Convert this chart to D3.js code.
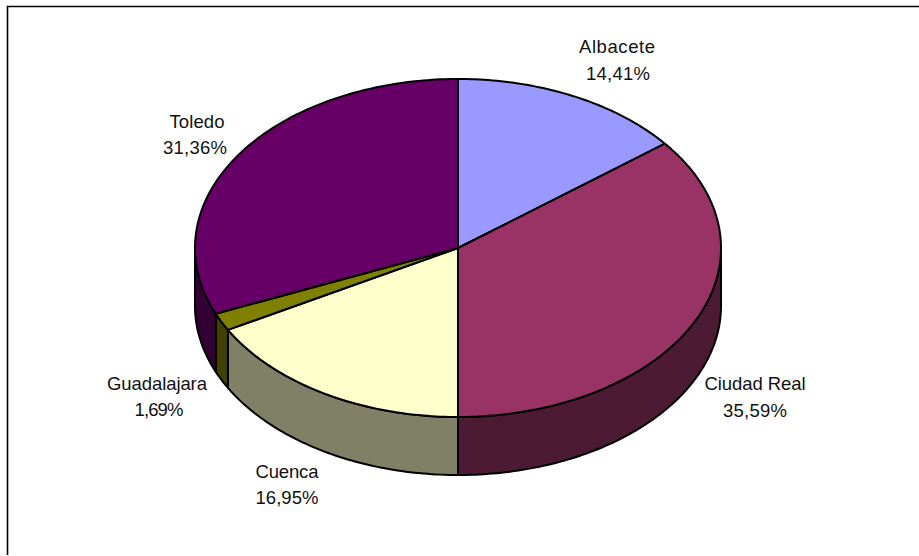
<!DOCTYPE html>
<html>
<head>
<meta charset="utf-8">
<script src="https://cdn.jsdelivr.net/npm/d3@7"></script>
<style>
    html, body { margin: 0; padding: 0; background: #fff; }
    svg { display: block; }
    text { font-family: "Liberation Sans", Arial, sans-serif; font-size: 18.5px; fill: #111; }
</style>
</head>
<body>
<script>
var categories = ["Albacete", "Ciudad Real", "Cuenca", "Guadalajara", "Toledo"];
var values = [14.41, 35.59, 16.95, 1.69, 31.36];
var percentLabels = ["14,41%", "35,59%", "16,95%", "1,69%", "31,36%"];
var topColors = ["#9999ff", "#993366", "#ffffcc", "#808000", "#660066"];
var sideColors = ["#4d4d80", "#4d1a33", "#808066", "#404000", "#330033"];

var width = 919,
    height = 556,
    cx = 458,
    cy = 248,
    rx = 263,
    ry = 169,
    depth = 58;

var svg = d3.select("body").append("svg")
    .attr("width", width)
    .attr("height", height);

/** Only the top and left edges of the chart frame are in the picture **/
svg.append("path")
    .attr("d", d3.line()([[7.5, 555], [7.5, 6.5], [width, 6.5]]))
    .attr("fill", "none")
    .attr("stroke", "#000")
    .attr("stroke-width", 1.6);

var slices = d3.pie().sort(null)(values);

var px = function (a) { return cx + rx * Math.sin(a); };
var py = function (a) { return cy - ry * Math.cos(a); };

/**
 * Sample the rim of the ellipse between two angles
 */
var rim = function (a0, a1, dy) {
    var n = Math.max(2, Math.ceil(Math.abs(a1 - a0) * 60));
    return d3.range(n + 1).map(function (i) {
        var a = a0 + (a1 - a0) * i / n;
        return [px(a), py(a) + dy];
    });
};

var line = d3.line();

/** Side walls, only the part of a slice that faces the viewer **/
slices.forEach(function (s, i) {
    var a0 = Math.max(s.startAngle, Math.PI / 2),
        a1 = Math.min(s.endAngle, Math.PI * 3 / 2);
    if (a1 <= a0) return;
    var pts = rim(a0, a1, 0).concat(rim(a1, a0, depth));
    svg.append("path")
        .attr("d", line(pts) + "Z")
        .attr("fill", sideColors[i])
        .attr("stroke", "#000")
        .attr("stroke-width", 2)
        .attr("stroke-linejoin", "round");
});

/** Top face of each slice **/
slices.forEach(function (s, i) {
    var pts = [[cx, cy]].concat(rim(s.startAngle, s.endAngle, 0));
    svg.append("path")
        .attr("d", line(pts) + "Z")
        .attr("fill", topColors[i])
        .attr("stroke", "#000")
        .attr("stroke-width", 2)
        .attr("stroke-linejoin", "round");
});

/** Labels sit at hand-read spots in the reference, keyed by category **/
var nameX = d3.scaleOrdinal().domain(categories).range([617, 755, 287, 157, 197]);
var nameY = d3.scaleOrdinal().domain(categories).range([53, 390, 478, 390, 128]);
var nameWidth = d3.scaleOrdinal().domain(categories).range([76, 101, 63, 100, 55]);
var percentX = d3.scaleOrdinal().domain(categories).range([618, 755, 287, 159, 195]);
var percentY = d3.scaleOrdinal().domain(categories).range([80, 417, 504, 416, 154]);
var percentWidth = d3.scaleOrdinal().domain(categories).range([64, 64, 63, 49, 64]);

var labels = svg.selectAll("g.label")
    .data(categories)
    .enter().append("g")
    .attr("class", "label");

labels.append("text")
    .attr("text-anchor", "middle")
    .attr("x", function (d) { return nameX(d); })
    .attr("y", function (d) { return nameY(d); })
    .attr("textLength", function (d) { return nameWidth(d); })
    .attr("lengthAdjust", "spacing")
    .text(function (d) { return d; });

labels.append("text")
    .attr("text-anchor", "middle")
    .attr("x", function (d) { return percentX(d); })
    .attr("y", function (d) { return percentY(d); })
    .attr("textLength", function (d) { return percentWidth(d); })
    .attr("lengthAdjust", "spacing")
    .text(function (d, i) { return percentLabels[i]; });
</script>
</body>
</html>
